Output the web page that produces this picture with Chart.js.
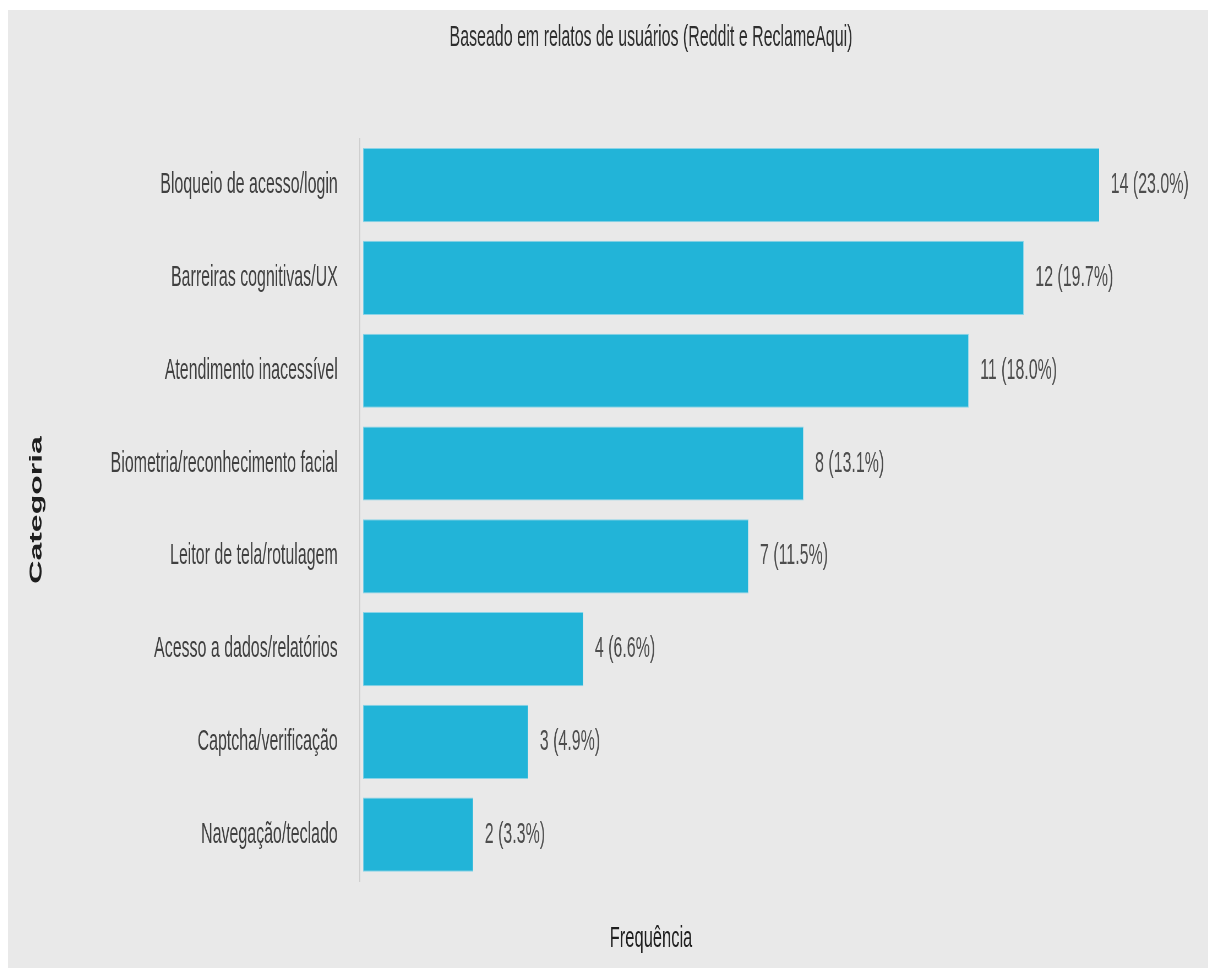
<!DOCTYPE html>
<html lang="pt-BR">
<head>
<meta charset="utf-8">
<title>Barreiras de acessibilidade</title>
<script src="https://cdn.jsdelivr.net/npm/chart.js@4.4.1/dist/chart.umd.min.js"></script>
<style>
  html, body { margin: 0; padding: 0; background: #ffffff; overflow: hidden; }
  #marco {
    position: absolute; left: 8px; top: 10px;
    width: 1200px; height: 958px;
    overflow: hidden; background: #e9e9e9;
  }
  /* a imagem original é comprimida na horizontal, por isso o canvas é escalado */
  #grafico {
    display: block;
    width: 2336px; height: 958px;
    transform: scaleX(0.5505);
    transform-origin: 0 0;
  }
</style>
</head>
<body>
<div id="marco">
  <canvas id="grafico" width="2336" height="958"></canvas>
</div>
<script>
const categorias = [
    'Bloqueio de acesso/login',
    'Barreiras cognitivas/UX',
    'Atendimento inacessível',
    'Biometria/reconhecimento facial',
    'Leitor de tela/rotulagem',
    'Acesso a dados/relatórios',
    'Captcha/verificação',
    'Navegação/teclado'
];
const frequencias = [14, 12, 11, 8, 7, 4, 3, 2];
const percentuais = ['23.0', '19.7', '18.0', '13.1', '11.5', '6.6', '4.9', '3.3'];

const fonte = "'Liberation Sans', Arial, sans-serif";

// Rótulos "n (x%)" ao lado de cada barra
const rotulosBarras = {
    id: 'rotulosBarras',
    afterDatasetsDraw(chart) {
        const { ctx, chartArea } = chart;
        const meta = chart.getDatasetMeta(0);
        ctx.save();
        ctx.font = `29px ${fonte}`;
        ctx.fillStyle = '#4d4d4d';
        ctx.textAlign = 'left';
        ctx.textBaseline = 'middle';
        meta.data.forEach((barra, i) => {
            const x = Math.min(barra.x, chartArea.right) + 21;
            ctx.fillText(`${frequencias[i]} (${percentuais[i]}%)`, x, barra.y);
        });
        ctx.restore();
    }
};

const ctx = document.getElementById('grafico').getContext('2d');
new Chart(ctx, {
    type: 'bar',
    data: {
        labels: categorias,
        datasets: [{
            label: 'Frequência',
            data: frequencias,
            backgroundColor: '#22b4d8',
            borderColor: '#8ad4e8',
            borderWidth: 1,
            borderSkipped: false,
            categoryPercentage: 1,
            barPercentage: 0.8,
            clip: 0
        }]
    },
    options: {
        indexAxis: 'y',
        responsive: false,
        animation: false,
        devicePixelRatio: 1,
        layout: { padding: 0 },
        plugins: {
            legend: { display: false },
            tooltip: { enabled: false },
            title: {
                display: true,
                text: 'Baseado em relatos de usuários (Reddit e ReclameAqui)',
                color: '#2e2e2e',
                font: { family: fonte, size: 29, weight: 'normal' },
                padding: { top: 11, bottom: 83 }
            },
            subtitle: {
                display: true,
                position: 'bottom',
                text: 'Frequência',
                color: '#1e1e1e',
                font: { family: fonte, size: 30, weight: 'normal' },
                padding: { top: 40, bottom: 11 }
            }
        },
        scales: {
            x: {
                display: false,
                min: -0.06,
                max: 13.37
            },
            y: {
                grid: { display: false, drawTicks: false },
                border: { display: true, color: '#cfcfcf', width: 2 },
                ticks: {
                    color: '#404040',
                    padding: 40,
                    font: { family: fonte, size: 29 }
                },
                title: {
                    display: true,
                    text: 'Categoria',
                    color: '#1e1e1e',
                    font: { family: fonte, size: 32, weight: 'bold' },
                    padding: { top: 33 }
                },
                afterFit: (escala) => { escala.width = 639; }
            },
            // eixo vazio só para reservar a margem direita da figura
            margemDireita: {
                type: 'linear',
                position: 'right',
                display: true,
                grid: { display: false },
                border: { display: false },
                ticks: { display: false },
                afterFit: (escala) => { escala.width = 354; }
            }
        }
    },
    plugins: [rotulosBarras]
});
</script>
</body>
</html>
